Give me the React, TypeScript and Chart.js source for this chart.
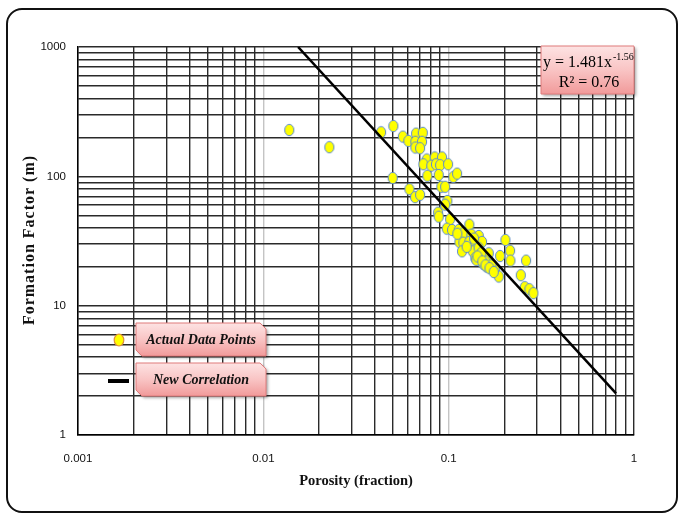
import React, { useEffect, useRef } from 'react';
import { Chart, registerables } from 'chart.js';
Chart.register(...registerables);

// ---- data ----
const porosity = [
  0.0138, 0.0227, 0.0432, 0.0503, 0.0566, 0.0606, 0.0499, 0.0614, 0.0659, 0.0667,
  0.0725, 0.0661, 0.0718, 0.0661, 0.0701, 0.0762, 0.0841, 0.0921, 0.0730, 0.0806,
  0.0854, 0.0899, 0.0993, 0.0884, 0.0767, 0.106, 0.111, 0.0701, 0.0913, 0.0957,
  0.0984, 0.0957, 0.0877, 0.0884, 0.1018, 0.0977, 0.1043, 0.1134, 0.1293, 0.120,
  0.1326, 0.1454, 0.1143, 0.120, 0.1293, 0.1393, 0.1514, 0.1181, 0.1349, 0.1475,
  0.1393, 0.1477, 0.1552, 0.1618, 0.1538, 0.1658, 0.173, 0.1774, 0.1864, 0.1894,
  0.2023, 0.2145, 0.2154, 0.2617, 0.245, 0.2575, 0.2727, 0.2865, 0.1371, 0.1646,
  0.1409, 0.1673, 0.1606, 0.1114, 0.125, 0.145, 0.158, 0.150, 0.170, 0.143,
  0.152, 0.158, 0.166, 0.175,
];
const formationFactor = [
  228, 168, 219, 245, 203, 188, 97, 79.5, 69, 214,
  217, 185, 185, 167, 165, 135, 140, 140, 124, 121,
  124, 122, 124, 102.5, 101, 99, 105, 72, 83, 83,
  64.5, 60.4, 52.4, 48.8, 46.6, 39.4, 38.5, 38.5, 42.3, 36.3,
  35.4, 34.6, 31.1, 30.7, 31.1, 30.7, 31.1, 26.3, 26.3, 26.6,
  23.4, 23.1, 24.5, 23.1, 21.0, 21.0, 19.8, 18.9, 16.8, 24.2,
  32.2, 26.6, 22.3, 22.3, 17.2, 13.9, 13.4, 12.5, 33.0, 25.4,
  22.6, 21.5, 20.0, 36.0, 28.5, 28.0, 22.0, 25.5, 20.5, 24.0,
  22.0, 20.5, 19.5, 18.2,
];
const trendPorosity = [0.0154, 0.8];
const trendFactor = [1000, 2.1];

const xTickLabels = ['0.001', '0.01', '0.1', '1'];
const yTickLabels = ['1', '10', '100', '1000'];
const xMin = 0.001, xMax = 1;
const yMin = 1, yMax = 1000;

const xTitle = 'Porosity (fraction)';
const yTitle = 'Formation Factor (m)';
const equationMain = 'y = 1.481x';
const equationExp = '-1.56';
const r2Text = 'R\u00b2 = 0.76';
const legendLabels = ['Actual Data Points', 'New Correlation'];

function logTicks(min: number, max: number) {
  const out: number[] = [];
  const e0 = Math.round(Math.log10(min));
  const e1 = Math.round(Math.log10(max));
  for (let e = e0; e < e1; e++) {
    for (let k = 1; k < 10; k++) out.push(Number((k * Math.pow(10, e)).toPrecision(2)));
  }
  out.push(max);
  return out;
}
function isDecade(v: number) {
  const l = Math.log10(v);
  return Math.abs(l - Math.round(l)) < 1e-9;
}

function makeMarker(stroke: string) {
  const c = document.createElement('canvas');
  c.width = 12; c.height = 14;
  const g = c.getContext('2d')!;
  g.beginPath();
  g.ellipse(6, 7, 4.6, 5.7, 0, 0, Math.PI * 2);
  g.fillStyle = '#ffff00';
  g.fill();
  g.lineWidth = 1;
  g.strokeStyle = stroke;
  g.stroke();
  return c;
}

function snipPath(ctx: CanvasRenderingContext2D, x: number, y: number, w: number, h: number, s: number) {
  ctx.beginPath();
  ctx.moveTo(x, y);
  ctx.lineTo(x + w - s, y);
  ctx.lineTo(x + w, y + s);
  ctx.lineTo(x + w, y + h);
  ctx.lineTo(x + s, y + h);
  ctx.lineTo(x, y + h - s);
  ctx.closePath();
}

function pinkBox(ctx: CanvasRenderingContext2D, x: number, y: number, w: number, h: number, s: number) {
  ctx.save();
  snipPath(ctx, x, y, w, h, s);
  const gr = ctx.createLinearGradient(0, y, 0, y + h);
  gr.addColorStop(0, '#fde3e3');
  gr.addColorStop(0.5, '#f9c4c4');
  gr.addColorStop(1, '#f19a9a');
  ctx.shadowColor = 'rgba(0,0,0,0.35)';
  ctx.shadowBlur = 3;
  ctx.shadowOffsetX = 2;
  ctx.shadowOffsetY = 2;
  ctx.fillStyle = gr;
  ctx.fill();
  ctx.shadowColor = 'transparent';
  ctx.lineWidth = 1;
  ctx.strokeStyle = '#e07b7b';
  ctx.stroke();
  ctx.restore();
}

const overlayPlugin = {
  id: 'overlay',
  afterDraw(chart: any) {
    const ctx: CanvasRenderingContext2D = chart.ctx;
    ctx.save();
    // y axis title (letter-spaced like the reference)
    ctx.save();
    ctx.translate(30, 240);
    ctx.rotate(-Math.PI / 2);
    ctx.fillStyle = '#111';
    ctx.font = 'bold 16px "Liberation Serif"';
    (ctx as any).letterSpacing = '1px';
    ctx.textAlign = 'center';
    ctx.textBaseline = 'middle';
    ctx.fillText(yTitle, 0, 0);
    ctx.restore();

    // equation box
    pinkBox(ctx, 541, 46, 93, 48, 0);
    ctx.fillStyle = '#000';
    ctx.textBaseline = 'alphabetic';
    ctx.textAlign = 'left';
    ctx.font = '16px "Liberation Serif"';
    const mx = 543;
    ctx.fillText(equationMain, mx, 67);
    const w = ctx.measureText(equationMain).width;
    ctx.font = '10px "Liberation Serif"';
    ctx.fillText(equationExp, mx + w + 1, 60);
    ctx.font = '16px "Liberation Serif"';
    ctx.textAlign = 'center';
    ctx.fillText(r2Text, 589, 87);

    // legend
    pinkBox(ctx, 136, 323, 130, 33, 6);
    pinkBox(ctx, 136, 363, 130, 33, 6);
    ctx.fillStyle = '#111';
    ctx.font = 'italic bold 14px "Liberation Serif"';
    ctx.textAlign = 'center';
    ctx.textBaseline = 'middle';
    ctx.fillText(legendLabels[0], 201, 340);
    ctx.fillText(legendLabels[1], 201, 380);
    // markers
    ctx.beginPath();
    ctx.ellipse(119, 340, 4.8, 6, 0, 0, Math.PI * 2);
    ctx.fillStyle = '#ffff00';
    ctx.fill();
    ctx.lineWidth = 1.2;
    ctx.strokeStyle = '#e0903a';
    ctx.stroke();
    ctx.beginPath();
    ctx.moveTo(108, 381);
    ctx.lineTo(129, 381);
    ctx.lineWidth = 4;
    ctx.strokeStyle = '#000';
    ctx.stroke();
    ctx.restore();
  },
};

export default function App() {
  const ref = useRef<HTMLCanvasElement>(null);
  useEffect(() => {
    const marker = makeMarker('#5b8bd0');
    const xTicks = logTicks(xMin, xMax);
    const yTicks = logTicks(yMin, yMax);
    const chart = new Chart(ref.current!, {
      type: 'scatter',
      data: {
        datasets: [
          {
            label: legendLabels[1],
            type: 'line',
            data: trendPorosity.map((x, i) => ({ x, y: trendFactor[i] })),
            borderColor: '#000',
            borderWidth: 2.5,
            pointRadius: 0,
            fill: false,
          },
          {
            label: legendLabels[0],
            data: porosity.map((x, i) => ({ x, y: formationFactor[i] })),
            pointStyle: marker as any,
            pointRadius: 5,
          },
        ],
      },
      options: {
        responsive: false,
        animation: false,
        layout: { padding: { left: 0, right: 47, top: 47, bottom: 0 } },
        plugins: { legend: { display: false }, tooltip: { enabled: false } },
        scales: {
          x: {
            type: 'logarithmic',
            min: xMin,
            max: xMax,
            afterBuildTicks: (s: any) => {
              s.ticks = xTicks.map((v) => ({ value: v }));
            },
            afterFit: (s: any) => {
              s.height = 81;
            },
            ticks: {
              autoSkip: false,
              maxRotation: 0,
              padding: 17,
              color: '#111',
              font: { family: '"Liberation Sans"', size: 11.5 },
              callback: (v: any) => {
                const n = Number(v);
                if (!isDecade(n)) return '';
                return xTickLabels[Math.round(Math.log10(n)) - Math.round(Math.log10(xMin))];
              },
            },
            grid: {
              drawTicks: false,
              lineWidth: 1.4,
              color: (c: any) => {
                const v = c.tick?.value;
                if (v !== undefined && isDecade(v) && v !== xMin && v !== xMax) return '#c4c4c4';
                return '#2a2a2a';
              },
            },
            border: { display: true, color: '#000', width: 1.4 },
            title: {
              display: true,
              text: xTitle,
              color: '#111',
              font: { family: '"Liberation Serif"', size: 14.5, weight: 'bold' },
              padding: { top: 0, bottom: 26 },
            },
          },
          y: {
            type: 'logarithmic',
            min: yMin,
            max: yMax,
            afterBuildTicks: (s: any) => {
              s.ticks = yTicks.map((v) => ({ value: v }));
            },
            afterFit: (s: any) => {
              s.width = 78;
            },
            ticks: {
              autoSkip: false,
              padding: 12,
              color: '#111',
              font: { family: '"Liberation Sans"', size: 11.5 },
              callback: (v: any) => {
                const n = Number(v);
                if (!isDecade(n)) return '';
                return yTickLabels[Math.round(Math.log10(n)) - Math.round(Math.log10(yMin))];
              },
            },
            grid: {
              drawTicks: false,
              lineWidth: 1.4,
              color: '#2a2a2a',
            },
            border: { display: true, color: '#000', width: 1.4 },
            title: { display: false },
          },
        },
      },
      plugins: [overlayPlugin],
    });
    return () => chart.destroy();
  }, []);

  return (
    <div style={{ position: 'fixed', left: 0, top: 0, width: 681, height: 516, background: '#fff' }}>
      <canvas ref={ref} width={681} height={516} style={{ position: 'absolute', left: 0, top: 0 }} />
      <div
        style={{
          position: 'absolute',
          left: 6,
          top: 8,
          width: 672,
          height: 505,
          boxSizing: 'border-box',
          border: '2px solid #111',
          borderRadius: 16,
          pointerEvents: 'none',
        }}
      />
    </div>
  );
}
